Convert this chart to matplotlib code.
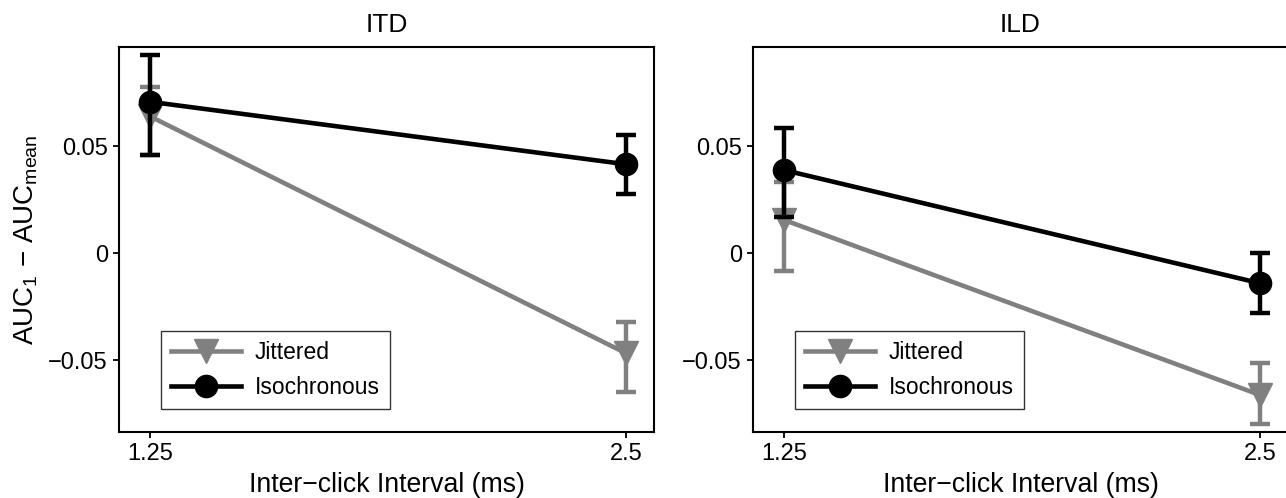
import matplotlib
matplotlib.use("Agg")
import matplotlib.pyplot as plt

plt.rcParams['font.family'] = ['Liberation Sans', 'DejaVu Sans']
plt.rcParams['mathtext.fontset'] = 'custom'
plt.rcParams['mathtext.rm'] = 'Liberation Sans'
plt.rcParams['mathtext.it'] = 'Liberation Sans:italic'

intervals = [1.25, 2.5]
panels = ["ITD", "ILD"]

# ITD
itd_jit = [0.064, -0.0467]
itd_jit_hi = [0.0776, -0.032]
itd_jit_lo = [0.046, -0.0647]
itd_iso = [0.0708, 0.0416]
itd_iso_hi = [0.0927, 0.0553]
itd_iso_lo = [0.0459, 0.0276]

# ILD
ild_jit = [0.0156, -0.0662]
ild_jit_hi = [0.0335, -0.0514]
ild_jit_lo = [-0.0081, -0.0798]
ild_iso = [0.0389, -0.014]
ild_iso_hi = [0.0587, 0.0]
ild_iso_lo = [0.0171, -0.028]

data = {
    "ITD": (itd_jit, itd_jit_lo, itd_jit_hi, itd_iso, itd_iso_lo, itd_iso_hi),
    "ILD": (ild_jit, ild_jit_lo, ild_jit_hi, ild_iso, ild_iso_lo, ild_iso_hi),
}

yticks = [-0.05, 0, 0.05]
yticklabels = ["\u22120.05", "0", "0.05"]
xticklabels = ["1.25", "2.5"]

GRAY = "#808080"
fig = plt.figure(figsize=(12.86, 4.98), dpi=100)
W, H = 1286, 498
positions = [(119, 432, 535, 385), (753, 432, 535, 385)]

for i, name in enumerate(panels):
    x0, yb, w, h = positions[i]
    ax = fig.add_axes([x0 / W, (H - yb) / H, w / W, h / H])
    jit, jlo, jhi, iso, ilo, ihi = data[name]
    jerr = [[m - l for m, l in zip(jit, jlo)], [u - m for m, u in zip(jit, jhi)]]
    ierr = [[m - l for m, l in zip(iso, ilo)], [u - m for m, u in zip(iso, ihi)]]
    ax.errorbar(intervals, jit, yerr=jerr, fmt='none', ecolor=GRAY, elinewidth=3.2,
                capsize=7, capthick=3.2, zorder=2)
    lj, = ax.plot(intervals, jit, color=GRAY, lw=3.3, marker='v', markersize=17,
                  markeredgecolor=GRAY, markerfacecolor=GRAY, zorder=3, label="Jittered")
    ax.errorbar(intervals, iso, yerr=ierr, fmt='none', ecolor='black', elinewidth=3.2,
                capsize=7, capthick=3.2, zorder=4)
    li, = ax.plot(intervals, iso, color='black', lw=3.3, marker='o', markersize=16,
                  zorder=5, label="Isochronous")
    ax.set_xlim(1.1686, 2.5735)
    ax.set_ylim(-0.0835, 0.0964)
    ax.set_xticks(intervals)
    ax.set_xticklabels(xticklabels)
    ax.set_yticks(yticks)
    ax.set_yticklabels(yticklabels)
    ax.tick_params(direction='out', length=4, width=1.3, labelsize=17, pad=4)
    for s in ax.spines.values():
        s.set_linewidth(1.5)
    ax.set_title(name, fontsize=19, pad=11)
    ax.set_xlabel("Inter\u2212click Interval (ms)", fontsize=19.2, labelpad=5)
    if i == 0:
        ax.set_ylabel("AUC$_\\mathrm{1}$ \u2212 AUC$_\\mathrm{mean}$",
                      fontsize=20, labelpad=6)
    leg = ax.legend(handles=[lj, li], loc='lower left', bbox_to_anchor=(0.078, 0.06),
                    borderaxespad=0, fontsize=16.5, frameon=True, fancybox=False,
                    edgecolor='black', handlelength=3.05, handletextpad=0.6,
                    labelspacing=0.5, borderpad=0.45)
    leg.get_frame().set_linewidth(1.0)

fig.savefig("out.png", dpi=100)
